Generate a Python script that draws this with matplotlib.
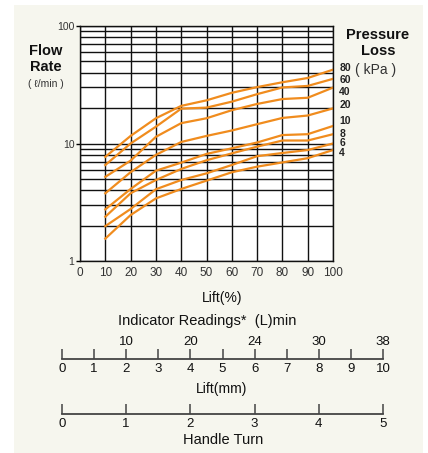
import matplotlib.pyplot as plt
import numpy as np

plt.rcParams['font.family'] = ['Liberation Sans', 'Noto Sans CJK JP', 'DejaVu Sans']

# Lift (%) and flow rate (l/min) for each pressure loss (kPa)
lift_pct = [10, 20, 30, 40, 50, 60, 70, 80, 90, 100]
pressure_labels = ['80', '60', '40', '20', '10', '8', '6', '4']
flow_80 = [7.7, 11.6, 16.4, 20.9, 23.3, 27.0, 30.2, 33.2, 36.1, 42.5]
flow_60 = [6.56, 10.0, 13.9, 19.8, 20.2, 22.7, 26.3, 30.0, 30.9, 35.5]
flow_40 = [5.2, 7.15, 11.4, 14.9, 16.4, 19.2, 21.7, 23.9, 24.5, 29.9]
flow_20 = [3.77, 5.7, 8.0, 10.3, 11.6, 12.9, 14.6, 16.5, 17.3, 19.9]
flow_10 = [2.75, 4.1, 5.87, 6.87, 8.15, 9.1, 10.2, 11.8, 12.0, 14.1]
flow_8 = [2.38, 3.77, 4.89, 6.07, 7.2, 8.24, 9.4, 10.6, 10.6, 12.0]
flow_6 = [1.98, 2.77, 4.08, 4.89, 5.57, 6.56, 7.8, 8.3, 8.8, 10.0]
flow_4 = [1.55, 2.46, 3.41, 4.1, 4.83, 5.69, 6.35, 6.9, 7.5, 8.8]
all_flows = [flow_80, flow_60, flow_40, flow_20, flow_10, flow_8, flow_6, flow_4]

# secondary scales under the chart
lift_mm = [0, 1, 2, 3, 4, 5, 6, 7, 8, 9, 10]
indicator_mm = [2, 4, 6, 8, 10]
indicator_labels = ['10', '20', '24', '30', '38']
handle_turns = [0, 1, 2, 3, 4, 5]

ORANGE = '#f08c1e'
TXT = '#333333'
W, H = 428, 453


def fx(px):
    return px / W


def fy(py):
    return 1 - py / H


fig = plt.figure(figsize=(W / 100, H / 100), dpi=100)
fig.patch.set_facecolor('white')

# beige panel behind everything
bg = fig.add_axes([fx(14), 0, fx(423 - 14), fy(5)])
bg.set_facecolor('#f6f6ee')
bg.set_xticks([])
bg.set_yticks([])
for s in bg.spines.values():
    s.set_visible(False)
bg.set_zorder(-5)

# main log chart
ax = fig.add_axes([fx(80), fy(261), fx(333 - 80), fy(26) - fy(261)])
ax.set_facecolor('white')
ax.set_yscale('log')
ax.set_xlim(0, 100)
ax.set_ylim(1, 100)
ax.set_xticks(np.arange(0, 101, 10))
ax.set_yticks([1, 10, 100])
ax.set_yticklabels(['1', '10', '100'])
ax.yaxis.set_minor_locator(plt.LogLocator(base=10, subs=np.arange(2, 10)))
ax.yaxis.set_minor_formatter(plt.NullFormatter())
ax.grid(True, which='both', color='#111111', lw=1.0)
ax.tick_params(axis='x', length=0, pad=4, labelsize=8.5, labelcolor=TXT)
ax.tick_params(axis='y', which='major', length=3, width=1.0, pad=1,
               labelsize=7.5, labelcolor=TXT)
ax.tick_params(axis='y', which='minor', length=0)
for s in ax.spines.values():
    s.set_color('#111111')
    s.set_linewidth(1.0)

label_offsets = [1.5, -1, -3, 2.5, 3.5, 0.5, 0, -2.5]
for flow, lab, off in zip(all_flows, pressure_labels, label_offsets):
    ax.plot(lift_pct, flow, color=ORANGE, lw=1.6, solid_joinstyle='miter')
    ax.annotate(lab, (lift_pct[-1], flow[-1]), xytext=(4.5, off),
                textcoords='offset points', va='center', ha='left',
                fontsize=7.5, fontweight='bold', color='#222222',
                annotation_clip=False)

fig.text(fx(45.5), fy(51), 'Flow', ha='center', va='center', fontsize=10.5,
         fontweight='bold', color='#111111')
fig.text(fx(45.5), fy(67), 'Rate', ha='center', va='center', fontsize=10.5,
         fontweight='bold', color='#111111')
fig.text(fx(46), fy(84), '( ℓ/min )', ha='center', va='center', fontsize=7.5,
         color=TXT)
fig.text(fx(378), fy(35), 'Pressure', ha='center', va='center', fontsize=10.5,
         fontweight='bold', color='#111111')
fig.text(fx(378), fy(51), 'Loss', ha='center', va='center', fontsize=10.5,
         fontweight='bold', color='#111111')
fig.text(fx(376), fy(70), '( kPa )', ha='center', va='center', fontsize=10,
         color=TXT)

fig.text(fx(222), fy(298), 'Lift(%)', ha='center', va='center',
         fontsize=10, color='#111111')
fig.text(fx(207), fy(321.5), 'Indicator Readings*  (L)min', ha='center',
         va='center', fontsize=10.5, color='#111111')


def scale_axis(y_px, ticks):
    sax = fig.add_axes([fx(62), fy(y_px), fx(383 - 62), 0.0005])
    sax.set_facecolor('none')
    for side in ['top', 'left', 'right']:
        sax.spines[side].set_visible(False)
    sax.spines['bottom'].set_color('#444444')
    sax.spines['bottom'].set_linewidth(1.3)
    sax.set_xlim(ticks[0], ticks[-1])
    sax.set_yticks([])
    sax.set_xticks(ticks)
    sax.set_xticklabels([str(t) for t in ticks])
    sax.tick_params(axis='x', direction='in', length=7, width=1.1,
                    color='#444444', pad=3, labelsize=9.5, labelcolor='#111111')
    return sax


mm_ax = scale_axis(359.3, lift_mm)
top = mm_ax.secondary_xaxis('top')
top.set_xticks(indicator_mm)
top.set_xticklabels(indicator_labels)
top.tick_params(length=0, pad=8, labelsize=9.5, labelcolor='#111111')
top.spines['top'].set_visible(False)
fig.text(fx(222), fy(389), 'Lift(mm)', ha='center', va='center',
         fontsize=10, color='#111111')

scale_axis(414.3, handle_turns)
fig.text(fx(223), fy(440), 'Handle Turn', ha='center', va='center',
         fontsize=10.5, color='#111111')

fig.savefig('out.png', dpi=100)
